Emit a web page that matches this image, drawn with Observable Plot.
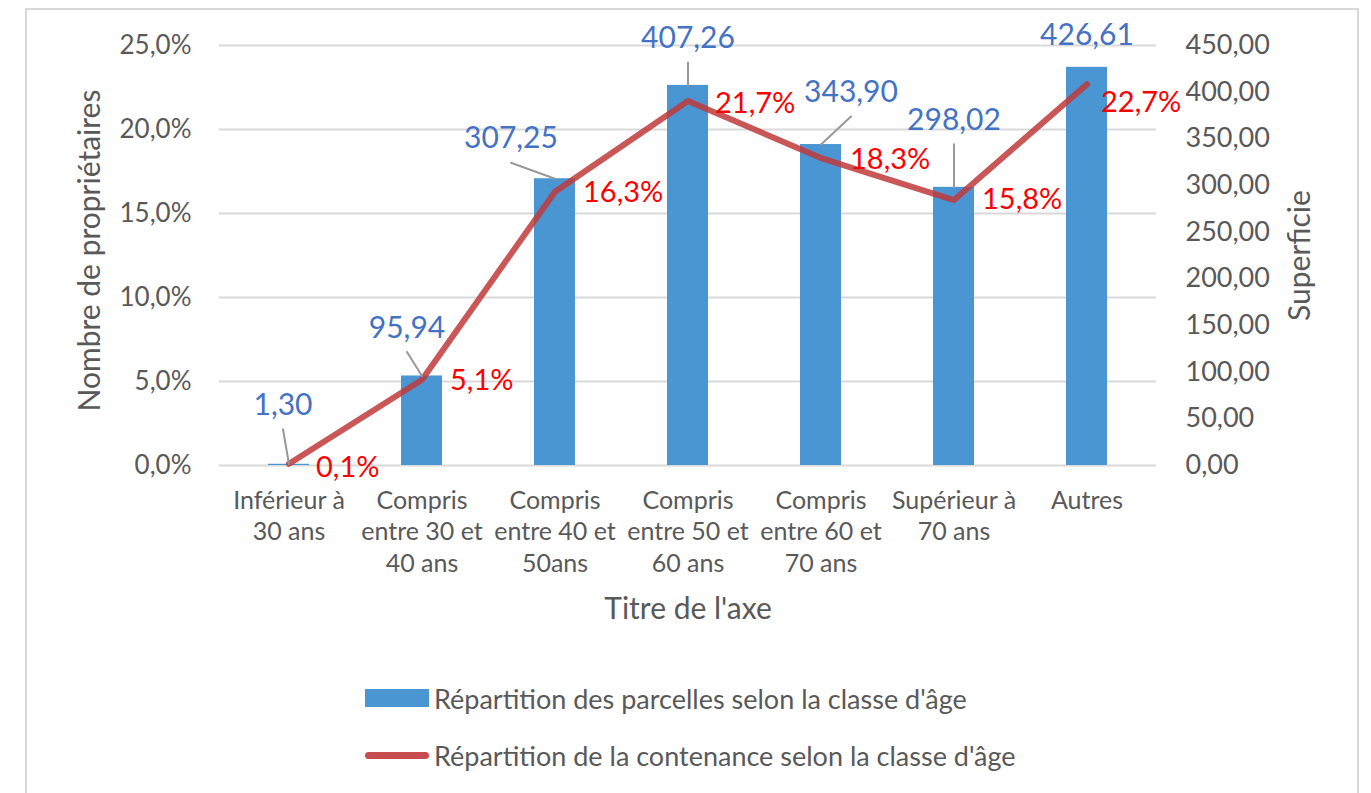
<!DOCTYPE html>
<html><head><meta charset="utf-8">
<script src="https://cdn.jsdelivr.net/npm/d3@7"></script>
<script src="https://cdn.jsdelivr.net/npm/@observablehq/plot@0.6"></script>
<style>
body{margin:0;background:#fff;font-family:Lato, "Open Sans", sans-serif;}
#wrap{position:relative;width:1371px;height:793px;overflow:hidden;background:#fff;}
#frame{position:absolute;left:25px;top:8px;width:1334px;height:820px;border:2px solid #d9d9d9;box-sizing:border-box;}
#chart{position:absolute;left:0;top:0;}
#legend{position:absolute;left:365px;top:680px;color:#595959;font-size:27px;}
.item{display:flex;align-items:center;height:36px;margin-bottom:21px;}
.sw{width:64px;margin-right:5px;flex:none;}
</style></head>
<body>
<div id="wrap"><div id="frame"></div><div id="chart"></div><div id="legend"></div></div>
<script>
const categories = ["Inférieur à\n30 ans","Compris\nentre 30 et\n40 ans","Compris\nentre 40 et\n50ans","Compris\nentre 50 et\n60 ans","Compris\nentre 60 et\n70 ans","Supérieur à\n70 ans","Autres"];
const superficie = [1.30, 95.94, 307.25, 407.26, 343.90, 298.02, 426.61];
const contenance = [0.1, 5.1, 16.3, 21.7, 18.3, 15.8, 22.7];
const leftTicks = [0, 5, 10, 15, 20, 25];
const rightTicks = [0, 50, 100, 150, 200, 250, 300, 350, 400, 450];
const seriesNames = ["Répartition des parcelles selon la classe d'âge", "Répartition de la contenance selon la classe d'âge"];
const axisTitles = {left: "Nombre de propriétaires", right: "Superficie", bottom: "Titre de l'axe"};

// layout nudges (pixels) for data labels, as placed in the original
const blueNudge = [[-6,-59],[-15,-48],[-44,-40],[0,-47],[30,-52],[0,-67],[0,-32]];
const redNudge = [[27,4],[28,1],[28,1],[27,3],[29,2],[28,0],[14,19]];

const k = 25 / 450; // right axis (superficie) -> left axis (%)
const rows = categories.map((c, i) => ({cat: c, sup: superficie[i], pct: contenance[i], bn: blueNudge[i], rn: redNudge[i]}));
const fmt2 = v => v.toFixed(2).replace(".", ",");
const fmtPct = v => v.toFixed(1).replace(".", ",") + "%";
const grey = "#595959";
const font = "Lato, 'Open Sans', sans-serif";

const leaderShape = {draw(ctx, l) { ctx.moveTo(0, 0); ctx.lineTo(0, -l); }};
const leaders = rows.filter(d => d.bn[1] + 24 < -12);

const chart = Plot.plot({
  width: 1371, height: 650,
  marginLeft: 219, marginRight: 215, marginTop: 45, marginBottom: 185,
  style: {fontFamily: font, background: "transparent"},
  x: {domain: categories, paddingInner: 0.694, paddingOuter: 0.347, label: null},
  y: {domain: [0, 25], label: null},
  length: {type: "identity"},
  marks: [
    Plot.gridY(leftTicks, {stroke: "#d9d9d9", strokeWidth: 2, strokeOpacity: 1}),
    Plot.barY(rows, {x: "cat", y: d => d.sup * k, fill: "#4a96d2"}),
    Plot.line(rows, {x: "cat", y: "pct", stroke: "#c0393b", strokeWidth: 6, strokeOpacity: 0.85, strokeLinejoin: "round"}),
    Plot.vector(leaders, {x: "cat", y: d => d.sup * k, anchor: "start",
      rotate: d => Math.atan2(d.bn[0], -(d.bn[1] + 24)) * 180 / Math.PI,
      length: d => Math.hypot(d.bn[0], d.bn[1] + 24),
      shape: leaderShape, stroke: "#999999", strokeWidth: 2}),
    ...rows.map(d => Plot.text([d], {x: "cat", y: r => r.sup * k, text: r => fmt2(r.sup), dx: d.bn[0], dy: d.bn[1], fill: "#4472c4", fontSize: 30})),
    ...rows.map(d => Plot.text([d], {x: "cat", y: "pct", text: r => fmtPct(r.pct), dx: d.rn[0], dy: d.rn[1], textAnchor: "start", fill: "#ff0000", fontSize: 29})),
    Plot.axisY(leftTicks, {anchor: "left", tickSize: 0, tickPadding: 28, tickFormat: fmtPct, fontSize: 26, color: grey, label: null}),
    Plot.axisY(rightTicks.map(v => v * k), {anchor: "right", tickSize: 0, tickPadding: 29, tickFormat: d => fmt2(d / k), fontSize: 27, color: grey, label: null}),
    Plot.axisX({tickSize: 0, tickPadding: 21, fontSize: 25, lineHeight: 1.26, color: grey, label: null}),
    Plot.text([axisTitles.left], {text: d => d, frameAnchor: "left", textAnchor: "middle", dx: -129, dy: -5, rotate: -90, fontSize: 30, fill: grey}),
    Plot.text([axisTitles.right], {text: d => d, frameAnchor: "right", textAnchor: "middle", dx: 144, rotate: -90, fontSize: 30, fill: grey}),
    Plot.text([axisTitles.bottom], {text: d => d, frameAnchor: "bottom", dy: 153, fontSize: 30, fill: grey})
  ]
});
document.getElementById("chart").appendChild(chart);

const legend = document.getElementById("legend");
legend.innerHTML =
  `<div class="item"><div class="sw" style="height:18px;background:#4a96d2"></div><span>${seriesNames[0]}</span></div>` +
  `<div class="item"><div class="sw" style="height:7px;border-radius:4px;background:#c0393b;opacity:0.9"></div><span>${seriesNames[1]}</span></div>`;
</script>
</body></html>
